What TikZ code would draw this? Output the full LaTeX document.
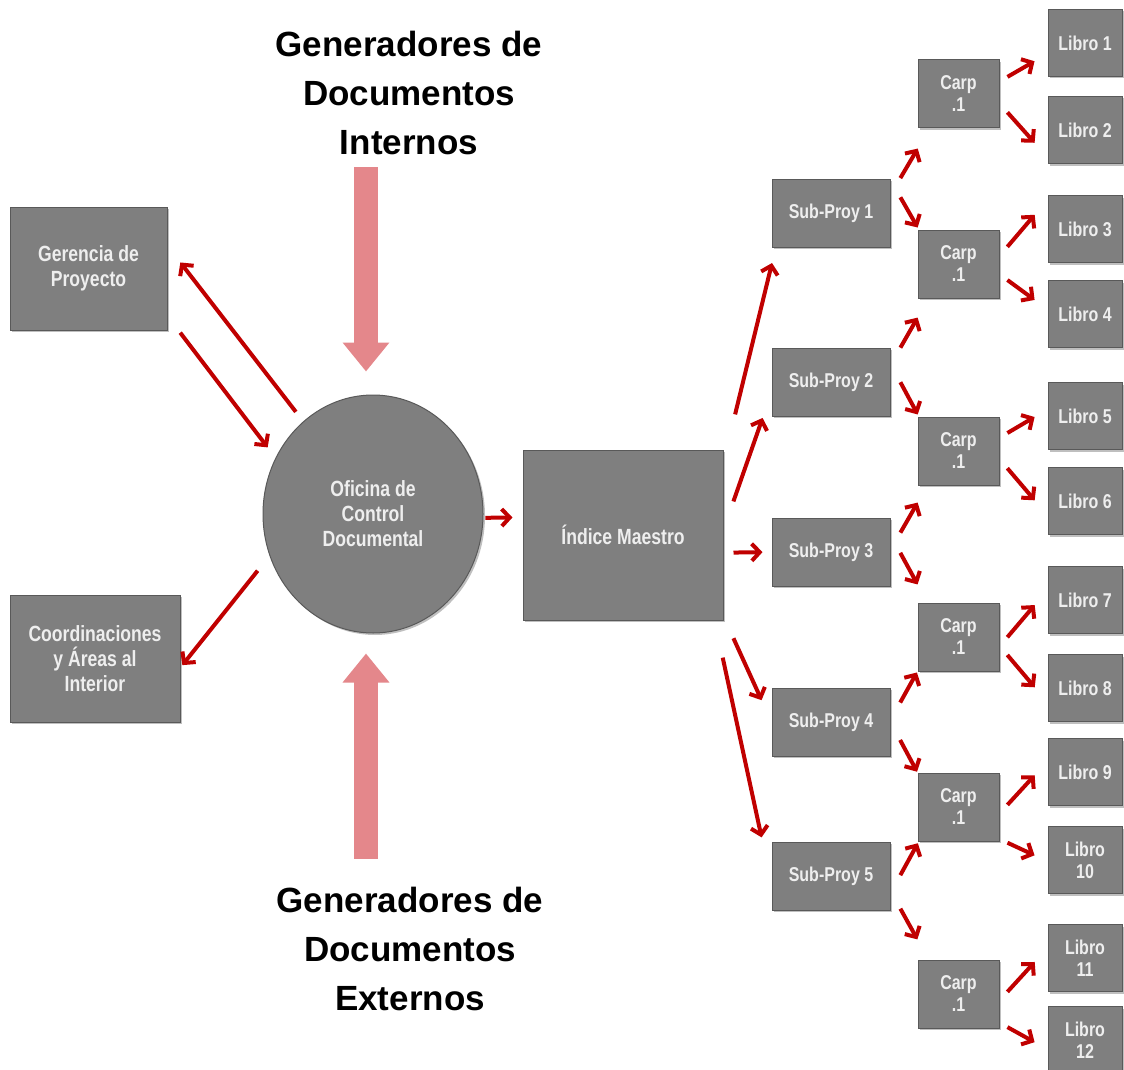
\documentclass[tikz,border=0pt]{standalone}
\usepackage{fontspec}
\setmainfont{Liberation Sans}
\newfontfamily\narrowfont{Liberation Sans}[FakeStretch=0.8]
\usetikzlibrary{shapes.geometric, arrows.meta, positioning, shadows}
\definecolor{boxgray}{HTML}{7F7F7F}
\definecolor{boxedge}{HTML}{595959}
\definecolor{boxtext}{HTML}{EEEEEE}
\definecolor{arrowred}{HTML}{C00000}
\definecolor{arrowpink}{HTML}{E4878B}

\begin{document}
\begin{tikzpicture}[
    x=1pt, y=-1pt,
    box/.style={rectangle, draw=boxedge, line width=1pt, fill=boxgray, text=boxtext, align=center, inner sep=2pt, font=\narrowfont\bfseries\fontsize{22}{25}\selectfont, drop shadow={shadow xshift=2pt, shadow yshift=-2pt, opacity=0.5}},
    subbox/.style={box, minimum width=118pt, minimum height=68pt, font=\narrowfont\bfseries\fontsize{20}{22}\selectfont},
    carpbox/.style={subbox, minimum width=81pt},
    librobox/.style={subbox, minimum width=74pt, minimum height=67pt},
    title/.style={align=center, inner sep=0pt, font=\bfseries\fontsize{35}{49}\selectfont},
    arrow/.style={draw=arrowred, line width=4pt, -{Straight Barb[length=8pt, width=17pt]}},
    pinkarrow/.style={draw=arrowpink, line width=24pt, -{Triangle[length=29pt, width=45pt]}}
]
    \useasboundingbox (0,0) rectangle (1124,1070);

    % Generators
    \node[title] (intern) at (409,93) {Generadores de\\Documentos\\Internos};
    \node[title] (extern) at (410,949) {Generadores de\\Documentos\\Externos};

    % Left side
    \node[box, minimum width=157pt, minimum height=123pt] (ger) at (88.5,268.5) {Gerencia de\\Proyecto};
    \node[box, minimum width=170pt, minimum height=127pt] (coord) at (95,658.5) {Coordinaciones\\y Áreas al\\Interior};
    \node[box, ellipse, minimum width=220pt, minimum height=238pt] (ofc) at (373,514) {Oficina de\\Control\\Documental};
    \node[box, minimum width=200pt, minimum height=170pt] (ind) at (623,535) {Índice Maestro};

    % Tree
    \foreach \i/\y in {1/213, 2/382, 3/552, 4/722, 5/876}
        \node[subbox] (sub\i) at (831,\y) {Sub-Proy \i};
    \foreach \i/\y in {1/94, 2/264, 3/451, 4/637, 5/807, 6/994}
        \node[carpbox] (carp\i) at (958.5,\y) {Carp\\.1};
    \foreach \i/\y/\t in {1/43/{Libro 1}, 2/130/{Libro 2}, 3/229/{Libro 3}, 4/314/{Libro 4}, 5/416/{Libro 5}, 6/501/{Libro 6}, 7/600/{Libro 7}, 8/688/{Libro 8}, 9/772/{Libro 9}, 10/860/{Libro\\10}, 11/958/{Libro\\11}, 12/1040/{Libro\\12}}
        \node[librobox] (libro\i) at (1085,\y) {\t};

    % Pink inputs
    \coordinate (intop) at ([xshift=-7pt]ofc.north);
    \coordinate (inbot) at ([xshift=-7pt]ofc.south);
    \draw[pinkarrow, shorten <=12pt, shorten >=23pt] (intop |- intern.south) -- (intop);
    \draw[pinkarrow, shorten <=28pt, shorten >=20pt] (inbot |- extern.north) -- (inbot);

    % Connections
    \draw[arrow, shorten <=12pt, shorten >=21pt] (ofc.127) -- (ger.16);
    \draw[arrow, shorten <=21pt, shorten >=13pt] (ger.-31) -- (ofc.150);
    \draw[arrow, shorten <=19pt, shorten >=3pt] (ofc.202) -- (coord.-6);
    \draw[arrow, shorten <=2pt, shorten >=10pt] (ofc.-2) -- (ind.170);

    \draw[arrow, shorten <=49pt, shorten >=16pt] (ind.36) -- (sub1.212);
    \draw[arrow, shorten <=30pt, shorten >=27pt] (ind.3) -- (sub2.190);
    \draw[arrow, shorten <=10pt, shorten >=9pt] (ind.-10) -- (sub3.west);
    \draw[arrow, shorten <=24pt, shorten >=24pt] (ind.-39) -- (sub4.west);
    \draw[arrow, shorten <=38pt, shorten >=47pt] (ind.-43) -- (sub5.187);

    \foreach \a/\b/\s/\e in {sub1.17/carp1.230/19.4/23.3, sub1.29/carp2.139/19.9/2.3, sub2.16/carp2.229/19.9/22, sub2.17/carp3.139/20.9/2.3, sub3.2/carp3.228/19.9/19.7, sub3.16/carp4.132/20.4/20.6, sub4.2/carp4.220/19.9/1.2, sub4.0/carp5.140/20.4/1, sub5.-16/carp5.221/20.4/2, sub5.-14/carp6.131/20.4/23}
        \draw[arrow, shorten <=\s pt, shorten >=\e pt] (\a) -- (\b);

    \foreach \a/\b/\s/\e in {carp1.17/libro1.196/9.2/15, carp1.-13/libro2.216/11.9/19.4, carp2.11/libro3.142/12.1/19.8, carp2.-14/libro4.173/9.8/16, carp3.18/libro5.170/9.2/15, carp3.-11/libro6.201/12.1/19.8, carp4.-13/libro7.165/12.1/19.8, carp4.-12/libro8.201/12.1/19.8, carp5.-9/libro9.164/11.7/19, carp5.-38/libro10.182/8.8/14.3, carp6.-9/libro11.165/11.7/19, carp6.-35/libro12.194/9.1/14.8}
        \draw[arrow, shorten <=\s pt, shorten >=\e pt] (\a) -- (\b);

\end{tikzpicture}
\end{document}
